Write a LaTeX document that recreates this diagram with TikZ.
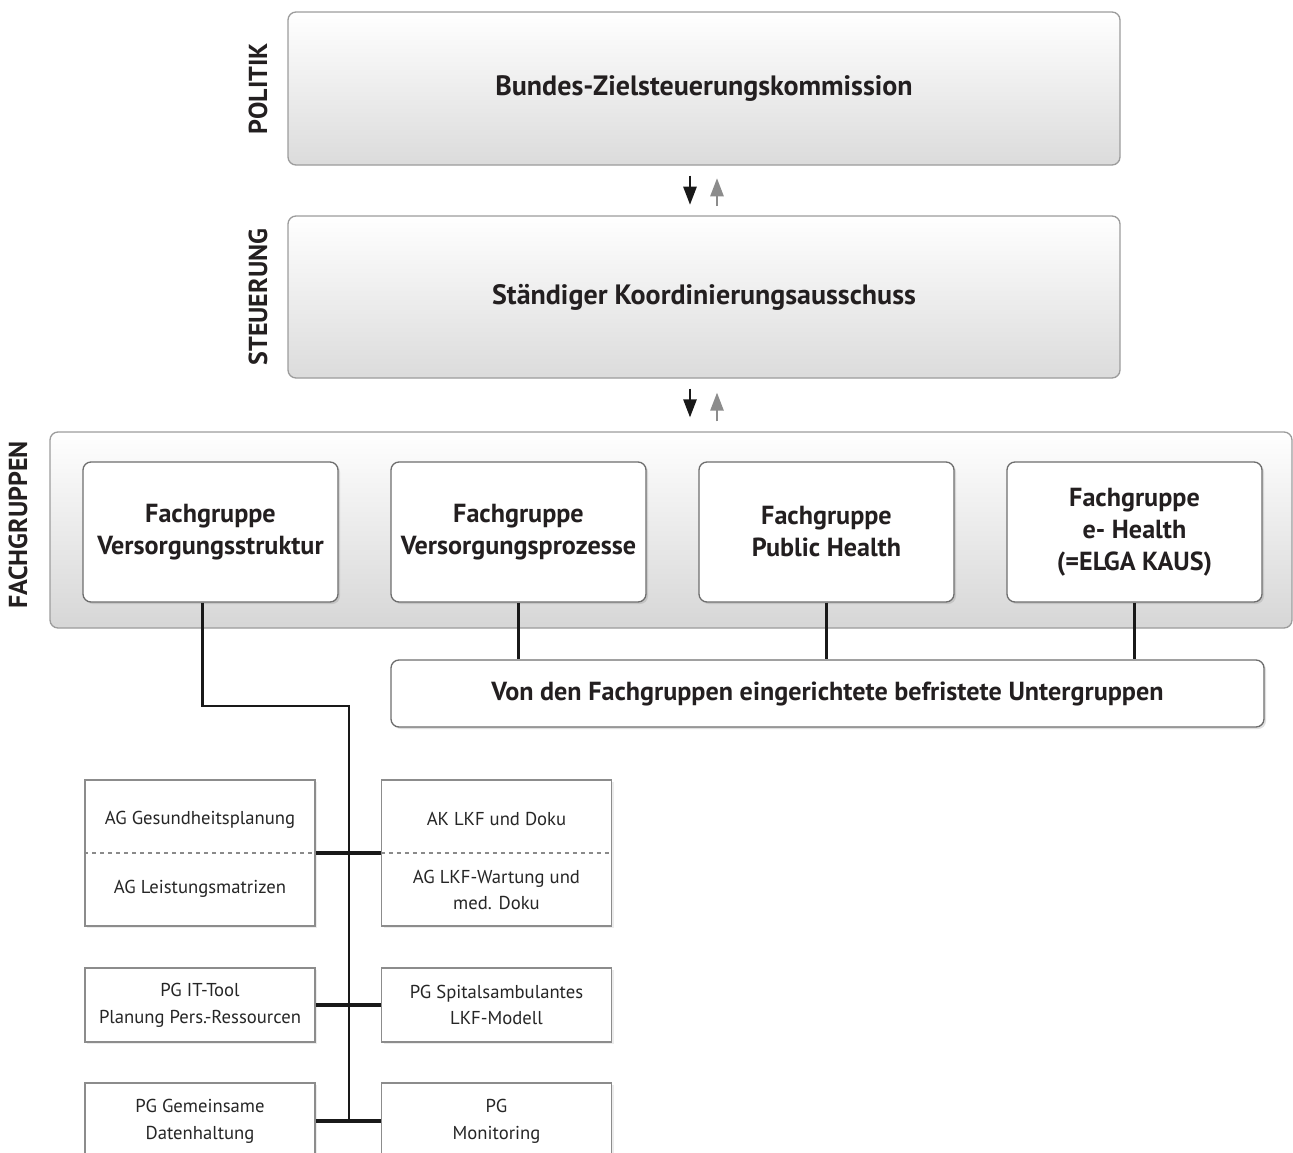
\documentclass[tikz,border=0pt]{standalone}
\usepackage{fontspec}
\setmainfont{PT Sans}
\usetikzlibrary{arrows.meta,shadows,calc}

\definecolor{txt}{HTML}{231F20}
\definecolor{rim}{HTML}{9C9C9C}
\definecolor{fgrim}{HTML}{6E6E6E}
\definecolor{uprow}{HTML}{8A8A8A}

\tikzset{
  levelbox/.style={draw=rim, line width=1pt, rounded corners=6pt,
    top color=white, bottom color=black!14, minimum width=624pt,
    text=txt, font=\bfseries\fontsize{21}{26}\selectfont},
  groupbox/.style={draw=rim, line width=1pt, rounded corners=6pt,
    top color=white, bottom color=black!16,
    minimum width=931.5pt, minimum height=147pt},
  fgbox/.style={draw=fgrim, line width=1pt, rounded corners=6pt, fill=white,
    minimum width=191.25pt, minimum height=105pt, align=center,
    text=txt, font=\bfseries\fontsize{19.6}{24}\selectfont,
    drop shadow={shadow xshift=1.5pt, shadow yshift=-1.5pt, opacity=0.25}},
  agbox/.style={draw=black!45, line width=0.9pt, fill=white,
    minimum width=172.5pt, align=center,
    drop shadow={shadow xshift=1.5pt, shadow yshift=-1.5pt, opacity=0.15}},
  agtext/.style={align=center, text=black!85,
    font=\fontsize{14}{20}\selectfont},
  levellabel/.style={rotate=90, text=txt,
    font=\bfseries\fontsize{19.5}{22}\selectfont},
  link/.style={line width=1.9pt, black!90},
  hlink/.style={line width=2.4pt, black!90},
  downarrow/.style={line width=1.3pt, black!90,
    -{Triangle[length=13.5pt, width=10pt]}},
  uparrow/.style={line width=1.3pt, black!45,
    -{Triangle[length=13.5pt, width=10pt]}},
}

\begin{document}
\begin{tikzpicture}[x=0.75pt, y=-0.75pt]
    \useasboundingbox (0,0) rectangle (1293,1153);
    \clip (0,0) rectangle (1293,1153);

    % Politik and Steuerung
    \node[levelbox, minimum height=114.75pt] (pol) at (704,88.5) {Bundes-Zielsteuerungskommission};
    \node[levelbox, minimum height=121.5pt] (steu) at (704,297) {Ständiger Koordinierungsausschuss};

    % Fachgruppen
    \node[groupbox] (fgrp) at (671,530) {};
    \node[fgbox] (fg1) at (210.5,532) {Fachgruppe\\Versorgungsstruktur};
    \node[fgbox] (fg2) at (518.5,532) {Fachgruppe\\Versorgungsprozesse};
    \node[fgbox] (fg3) at (826.5,532) {Fachgruppe\\Public Health};
    \node[fgbox] (fg4) at (1134.5,532) {Fachgruppe\\e- Health\\(=ELGA KAUS)};
    \node[fgbox, minimum width=654.75pt, minimum height=50.25pt] (ug) at (827.5,693.5)
      {Von den Fachgruppen eingerichtete befristete Untergruppen};

    % Labels
    \node[levellabel] (lpol) at (258,88.5) {POLITIK};
    \node[levellabel] (lsteu) at (258,297) {STEUERUNG};
    \node[levellabel] (lfg) at (18,525) {FACHGRUPPEN};

    % Arrows between the levels
    \coordinate (pa) at ($(pol.south)+(-14,0)$);
    \coordinate (pb) at ($(pol.south)+(13,0)$);
    \coordinate (sa) at ($(steu.south)+(-14,0)$);
    \coordinate (sb) at ($(steu.south)+(13,0)$);
    \draw[downarrow, shorten <=7.5pt, shorten >=8pt] (pa) -- (pa |- steu.north);
    \draw[uparrow, shorten <=7pt, shorten >=9.5pt] (pb |- steu.north) -- (pb);
    \draw[downarrow, shorten <=7.5pt, shorten >=10.5pt] (sa) -- (sa |- fgrp.north);
    \draw[uparrow, shorten <=7.5pt, shorten >=10.5pt] (sb |- fgrp.north) -- (sb);

    % Untergruppen
    \draw[link] (fg2.south) -- (fg2.south |- ug.north);
    \draw[link] (fg3.south) -- (fg3.south |- ug.north);
    \draw[link] (fg4.south) -- (fg4.south |- ug.north);

    % Arbeits- und Projektgruppen
    \node[agbox, minimum height=109.5pt] (agbox) at (200,853) {};
    \node[agbox, minimum height=109.5pt] (akbox) at (496.5,853) {};
    \draw[uprow, dashed, line width=0.8pt] (agbox.west) -- (agbox.east);
    \draw[uprow, dashed, line width=0.8pt] (akbox.west) -- (akbox.east);
    \node[agtext] (agges) at ($(agbox.center)+(0,-33)$) {AG Gesundheitsplanung};
    \node[agtext] (agleist) at ($(agbox.center)+(0,36)$) {AG Leistungsmatrizen};
    \node[agtext] (aklkf) at ($(akbox.center)+(0,-34)$) {AK LKF und Doku};
    \node[agtext] (agwart) at ($(akbox.center)+(0,37)$) {AG LKF-Wartung und\\med. Doku};
    \node[agbox, agtext, minimum height=55.5pt] (pgit) at (200,1005) {PG IT-Tool\\Planung Pers.-Ressourcen};
    \node[agbox, agtext, minimum height=55.5pt] (pgspital) at (496.5,1005) {PG Spitalsambulantes\\LKF-Modell};
    \node[agbox, agtext, minimum height=57pt] (pgdaten) at (200,1121) {PG Gemeinsame\\Datenhaltung};
    \node[agbox, agtext, minimum height=57pt] (pgmon) at (496.5,1121) {PG\\Monitoring};

    % Trunk line
    \coordinate (trunk) at (349,706);
    \draw[link] ($(fg1.south)+(-8,0)$) |- (trunk) -- (trunk |- pgdaten.east);
    \draw[hlink] (agbox.east) -- (akbox.west);
    \draw[hlink] (pgit.east) -- (pgspital.west);
    \draw[hlink] (pgdaten.east) -- (pgmon.west);
\end{tikzpicture}
\end{document}
